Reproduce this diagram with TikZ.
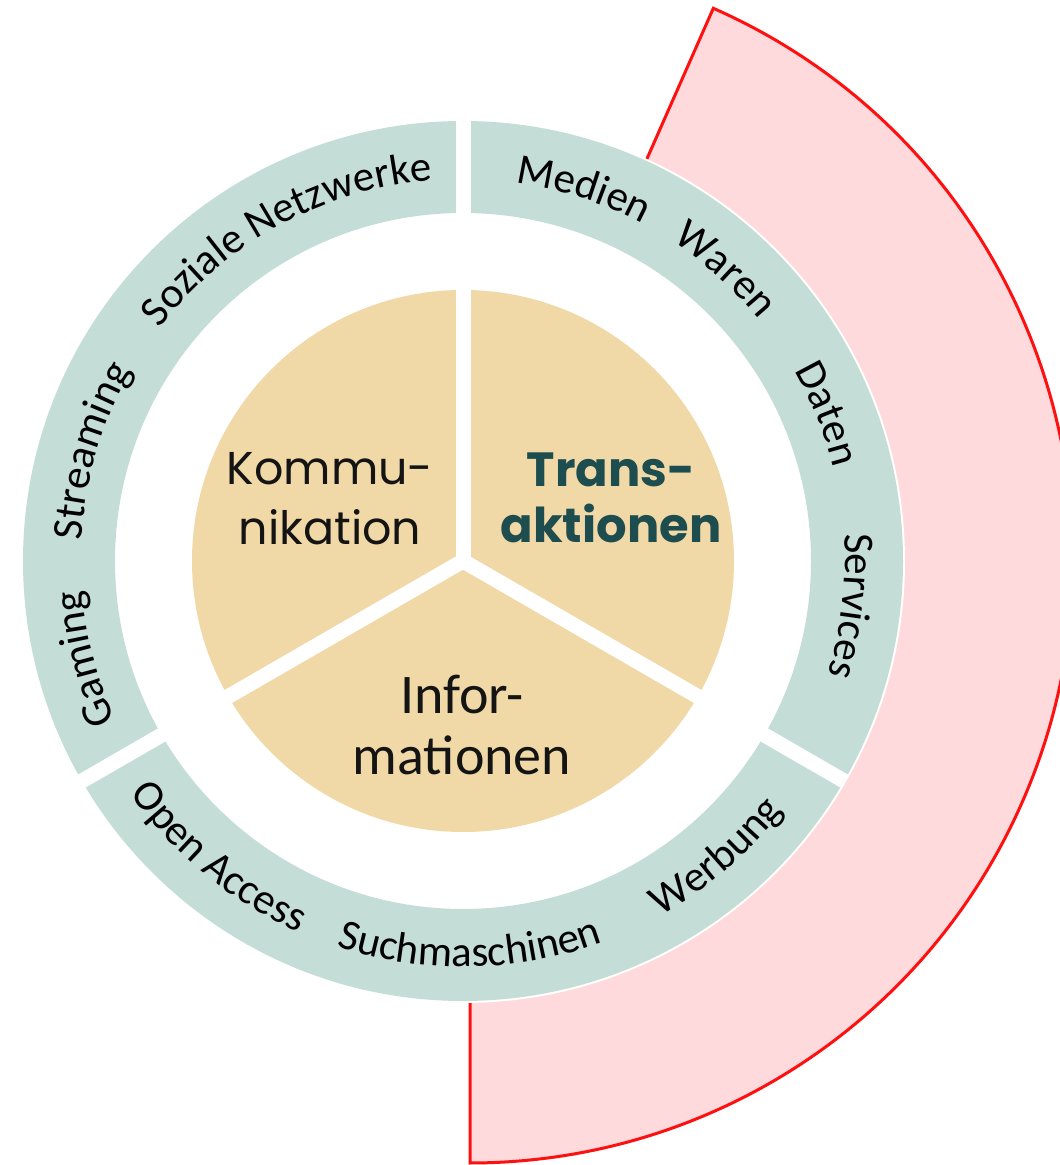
\documentclass[tikz,border=0pt]{standalone}
\usepackage{fontspec}
\usetikzlibrary{decorations.text,calc}
\newfontfamily\ringfont{Carlito}
\newfontfamily\popfont{Poppins}
\definecolor{ringc}{RGB}{196,221,214}
\definecolor{piec}{RGB}{240,216,167}
\definecolor{pinkc}{RGB}{255,218,220}
\definecolor{redc}{RGB}{255,16,16}
\definecolor{transc}{RGB}{30,77,80}
\definecolor{txtc}{RGB}{20,20,20}
\newcommand\ringtxt{\ringfont\fontsize{43}{50}\selectfont}
\tikzset{
  ringword/.style={decorate, decoration={text along path, text align=center, text={|\ringtxt|#1}}},
  gapline/.style={white, line width=15pt},
  centertext/.style={anchor=base, inner sep=0pt, text=txtc},
}
\newcommand\topword[2]{\path[ringword={#2}] ($(c)+({#1+40}:382pt)$) arc[start angle={#1+40}, end angle={#1-40}, radius=382pt];}
\newcommand\botword[2]{\path[ringword={#2}] ($(c)+({#1-40}:406pt)$) arc[start angle={#1-40}, end angle={#1+40}, radius=406pt];}
\begin{document}
\begin{tikzpicture}[x=1pt,y=1pt]
\clip (0,0) rectangle (1060,1165);
\fill[white] (0,0) rectangle (1060,1165);
\coordinate (c) at (463,604);
\coordinate (pc) at (470,605);
% pink sector
\filldraw[fill=pinkc, draw=redc, line width=3pt, line join=miter]
  (pc) -- ($(pc)+(66.2:603pt)$) arc[start angle=66.2, end angle=-90, radius=603pt] -- cycle;
\fill[white] (c) circle[radius=442pt];
% ring
\fill[ringc, even odd rule] (c) circle[radius=440pt] (c) circle[radius=348pt];
\foreach \a in {90,210,330}
  \draw[gapline] ($(c)+(\a:330pt)$) -- ($(c)+(\a:441pt)$);
% pie
\fill[piec] (c) circle[radius=271pt];
\foreach \a in {90,210,330}
  \draw[gapline] (c) -- ($(c)+(\a:280pt)$);
% ring words
\topword{118.5}{Soziale Netzwerke}
\topword{163.5}{Streaming}
\topword{194.5}{Gaming}
\topword{72}{Medien}
\topword{48}{Waren}
\topword{22}{Daten}
\topword{-6.6}{Services}
\botword{230.5}{Open Access}
\botword{271}{Suchmaschinen}
\botword{310.6}{Werbung}
% center texts
\node[centertext, font=\popfont\fontsize{46}{46}\selectfont] (k1) at (330,680) {Kommu-};
\node[centertext, font=\popfont\fontsize{46}{46}\selectfont] (k2) at (330,620) {nikation};
\node[centertext, text=transc, font=\popfont\bfseries\fontsize{48}{48}\selectfont] (t1) at (611,678) {Trans-};
\node[centertext, text=transc, font=\popfont\bfseries\fontsize{48}{48}\selectfont] (t2) at (611,622) {aktionen};
\node[centertext, font=\ringfont\fontsize{56}{56}\selectfont] (i1) at (462,451) {Infor-};
\node[centertext, font=\ringfont\fontsize{56}{56}\selectfont] (i2) at (462,390) {mationen};
\end{tikzpicture}
\end{document}
